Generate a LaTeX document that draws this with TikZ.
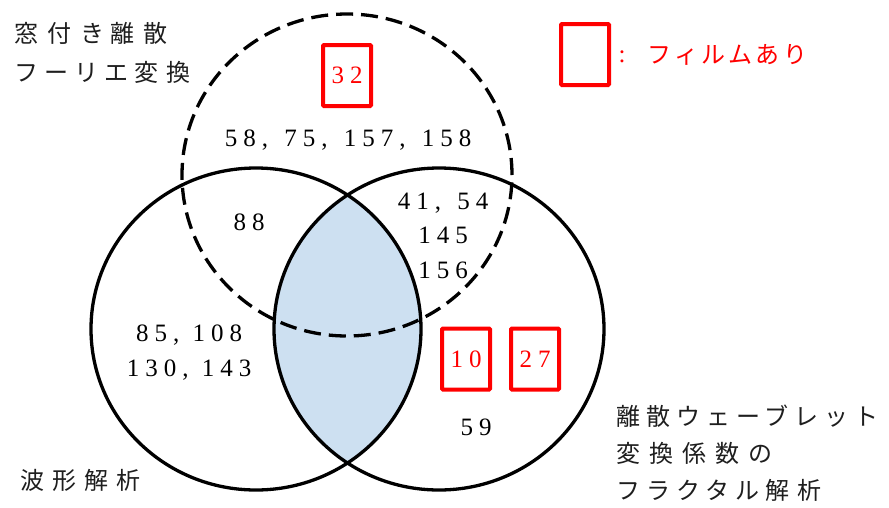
\documentclass[tikz,border=0pt]{standalone}
\usepackage{fontspec}
\setmainfont{Liberation Serif}
\newfontfamily\jpfam[LetterSpace=25]{Noto Sans CJK JP}
\newfontfamily\jplegfam[LetterSpace=14]{Noto Sans CJK JP}
\newfontfamily\numfam[LetterSpace=24]{Liberation Serif}
\newcommand\numtxt{\numfam\fontsize{25}{35}\selectfont}
\newcommand\jptxt{\jpfam\fontsize{24}{38}\selectfont}
\newcommand\gp[1][8pt]{\hspace{#1}}
\newcommand\cma[1][4pt]{,\hspace{#1} }
\definecolor{lensblue}{RGB}{205,224,241}
\definecolor{jpgray}{RGB}{30,30,30}
\begin{document}
\begin{tikzpicture}[x=1pt,y=-1pt,
  ring/.style={line width=3.3pt},
  dashring/.style={line width=3.3pt, dash pattern=on 17pt off 8pt},
  redbox/.style={draw=red, line width=4pt, rounded corners=1pt, minimum width=48pt,
    minimum height=61pt, inner sep=0pt, text=red, font=\numtxt},
  numlbl/.style={font=\numtxt, align=center, inner sep=0pt},
  jplbl/.style={font=\jptxt, text=jpgray, align=left, inner sep=0pt, anchor=west},
]
\useasboundingbox (0,0) rectangle (889,507);
% lens fill
\begin{scope}
  \clip (256,329) ellipse [x radius=165pt, y radius=161pt];
  \fill[lensblue] (439,329) ellipse [x radius=165pt, y radius=161pt];
\end{scope}
% circles
\draw[ring] (256,329) ellipse [x radius=165pt, y radius=161pt];
\draw[ring] (439,329) ellipse [x radius=165pt, y radius=161pt];
\draw[dashring] (347,175) ellipse [x radius=165pt, y radius=161pt];

% Japanese labels
\node[jplbl, font={\jpfam\fontsize{24}{39}\selectfont}] (tA) at (14,52.5)
  {窓\gp[9pt]付\gp[9pt]き離\gp[9pt]散\\フーリエ変\gp[8pt]換};
\node[jplbl] (tB) at (20,480) {波\gp{}形\gp{}解\gp{}析};
\node[jplbl, font={\jpfam\fontsize{24}{37}\selectfont}] (tC) at (616,453)
  {離\gp[6pt]散ウェーブレット\\変\gp[9pt]換\gp[9pt]係\gp[9pt]数\gp[9pt]の\\フラクタル解\gp{}析};

% legend
\node[redbox] (bLeg) at (585,54.5) {};
\node[numlbl, text=red] (colon) at (622,57) {:};
\node[jplbl, text=red, font={\jplegfam\fontsize{24}{30}\selectfont}] (tLeg) at (647,55) {フィルムあり};

% numbers
\node[redbox] (b32) at (347,75.5) {32};
\node[numlbl] (n1) at (348,140) {58\cma 75\cma 157\cma 158};
\node[numlbl] (n2) at (249,222) {88};
\node[numlbl, font={\numfam\fontsize{25}{34.5}\selectfont}] (n3) at (443,235.5) {41\cma 54\\145\\156};
\node[numlbl] (n4) at (189,352.5) {85\cma[1pt]108\\130\cma[1pt]143};
\node[redbox] (b10) at (466,359) {10};
\node[redbox] (b27) at (535,359) {27};
\node[numlbl] (n5) at (476,427) {59};
\end{tikzpicture}
\end{document}
